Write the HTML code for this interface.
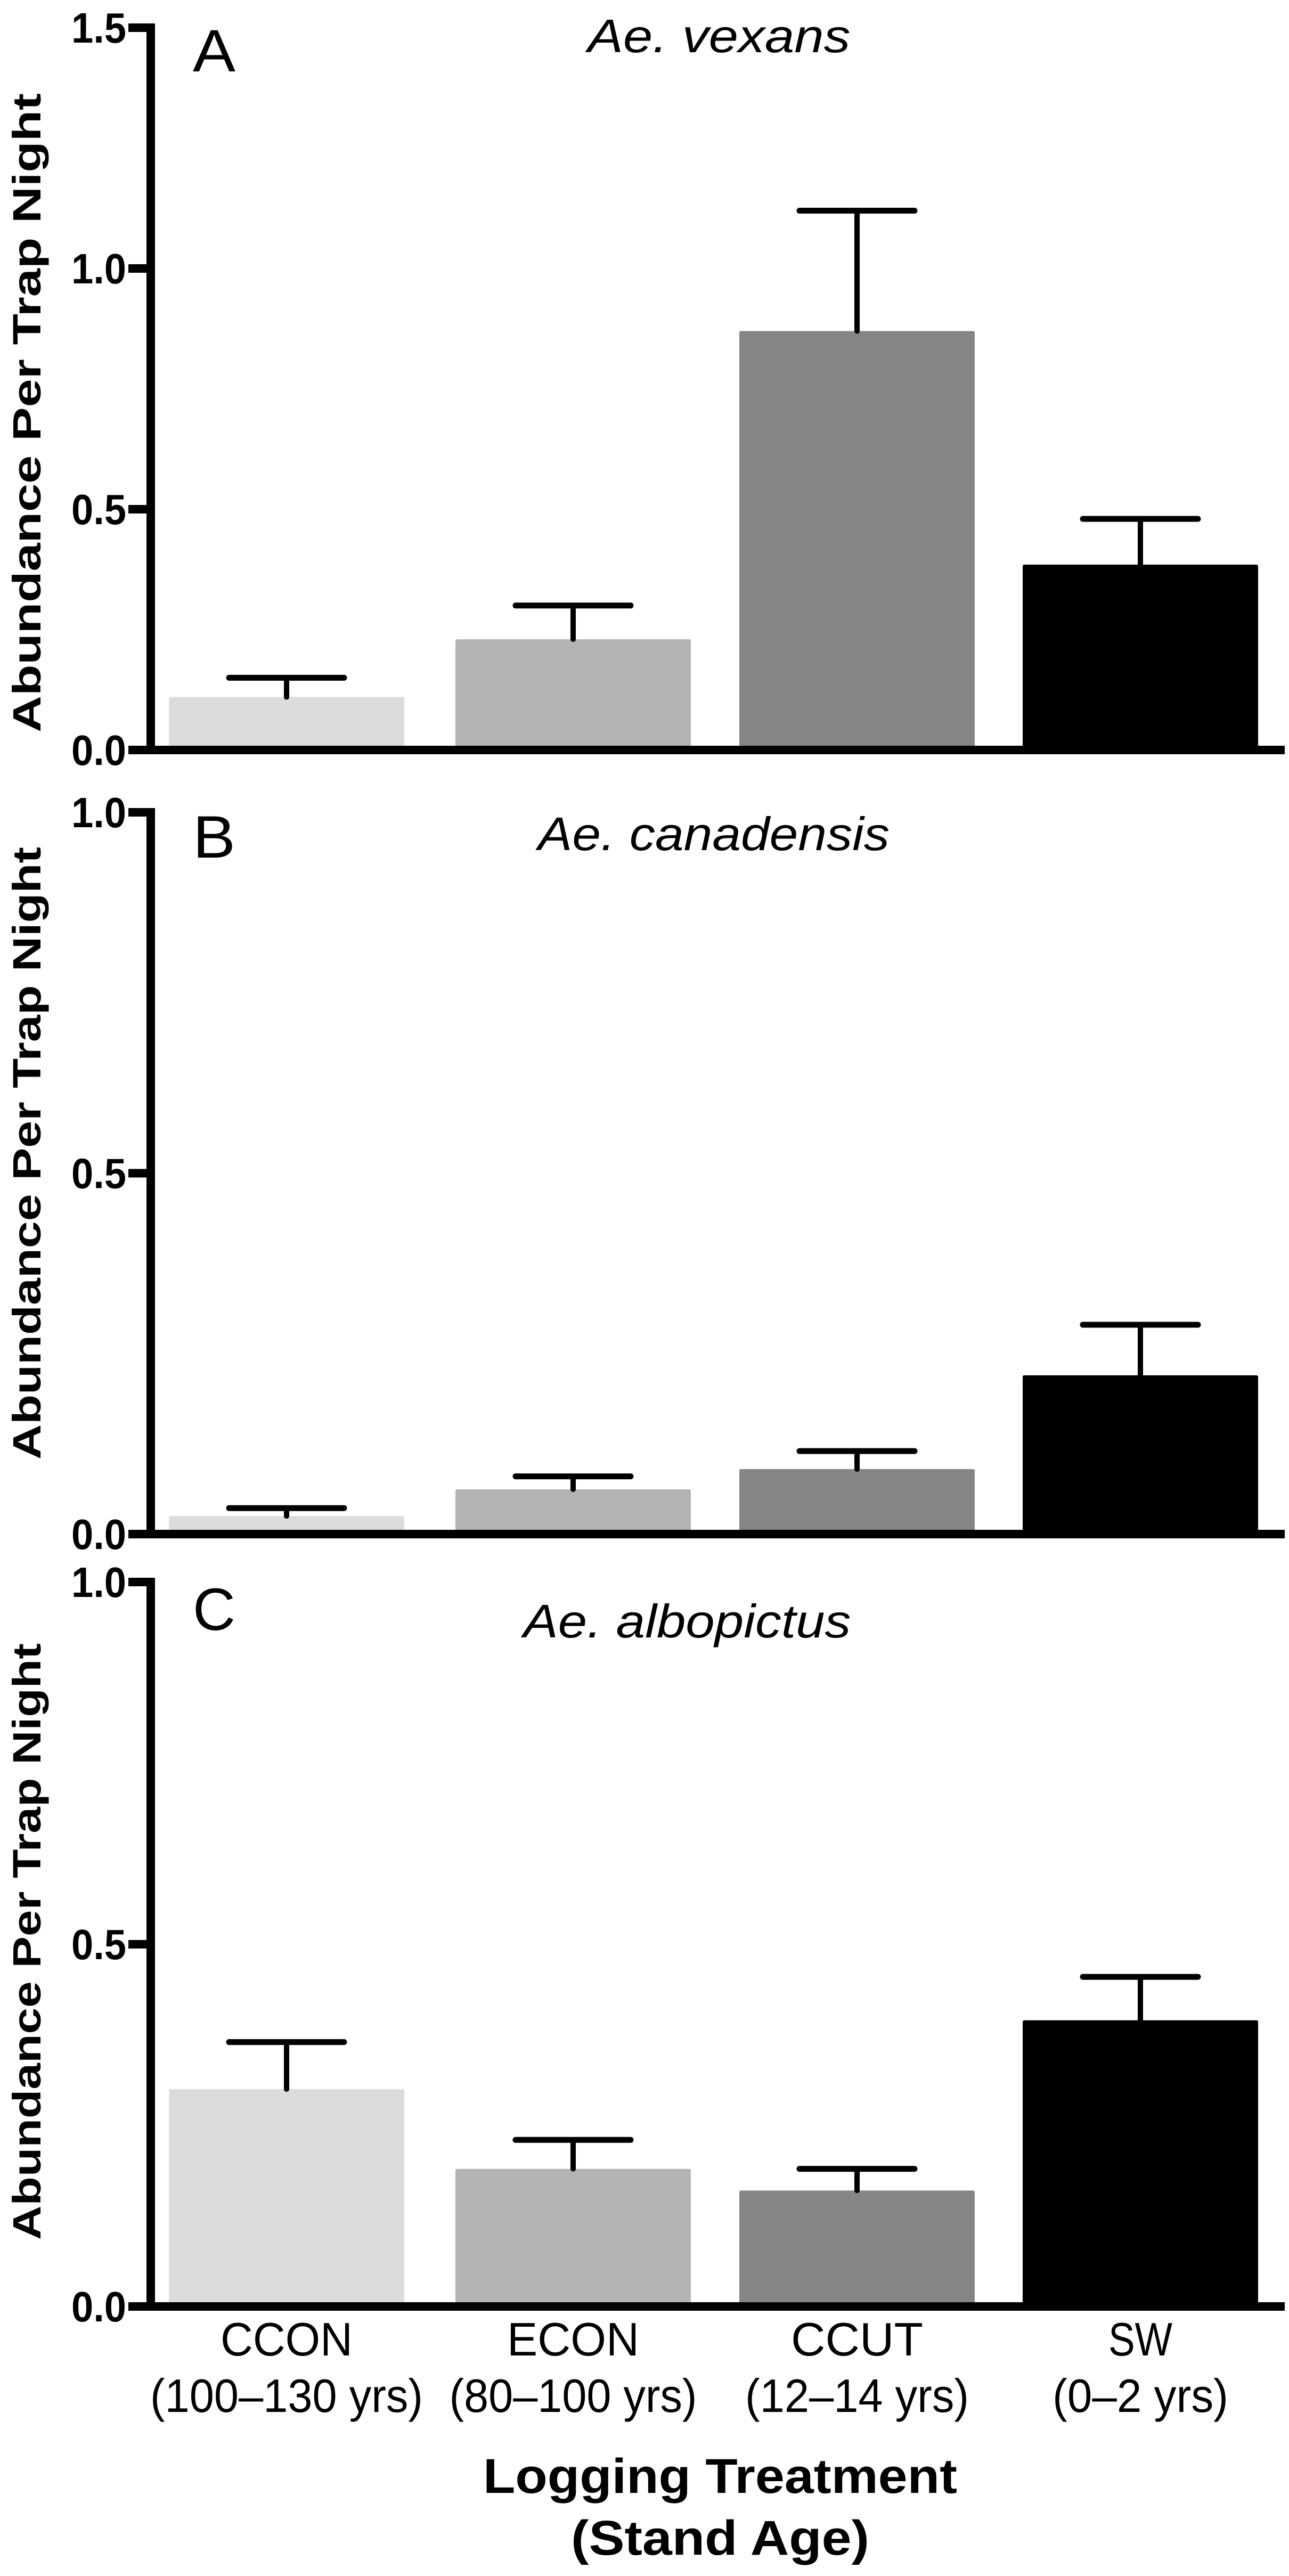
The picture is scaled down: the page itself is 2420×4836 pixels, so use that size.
<!DOCTYPE html>
<html><head><meta charset="utf-8"><style>
html,body{margin:0;padding:0;background:#fff}
svg{display:block}
</style></head><body>
<svg id="chart" width="2420" height="4836" viewBox="0 0 2420 4836" xmlns="http://www.w3.org/2000/svg" font-family="'Liberation Sans Narrow','Liberation Sans',sans-serif"></svg>
<script>
const categories = ["CCON","ECON","CCUT","SW"];
const ageLabels = ["(100\u2013130 yrs)","(80\u2013100 yrs)","(12\u201314 yrs)","(0\u20132 yrs)"];
const colors = ["#dcdcdc","#b4b4b4","#858585","#000000"];
const vexansMeans = [0.11, 0.23, 0.87, 0.385];
const vexansErr = [0.15, 0.30, 1.12, 0.48];
const canadensisMeans = [0.025, 0.062, 0.09, 0.22];
const canadensisErr = [0.036, 0.08, 0.115, 0.29];
const albopictusMeans = [0.30, 0.19, 0.16, 0.395];
const albopictusErr = [0.365, 0.23, 0.19, 0.455];
const ticksA = [0, 0.5, 1.0, 1.5];
const ticksBC = [0, 0.5, 1.0];
const tickLabelsA = ["0.0","0.5","1.0","1.5"];
const tickLabelsBC = ["0.0","0.5","1.0"];

const NS = "http://www.w3.org/2000/svg";
const svg = document.getElementById('chart');
function mk(tag, attrs, parent){
  const e = document.createElementNS(NS, tag);
  for (const k in attrs) e.setAttribute(k, attrs[k]);
  (parent||svg).appendChild(e);
  return e;
}
const axisX = 283, axisRight = 2412;
const barLefts = [317, 855, 1388, 1920];
const barW = 442;

const panels = [
  {id:'a', letter:'A', title:'Ae. vexans', means:vexansMeans, err:vexansErr, ticks:ticksA, tl:tickLabelsA, y0:1408, yTop:52, max:1.5, titleY:98, titleX:1350, titleW:493, letterY:134, ytCenter:775, ytLen:1200},
  {id:'b', letter:'B', title:'Ae. canadensis', means:canadensisMeans, err:canadensisErr, ticks:ticksBC, tl:tickLabelsBC, y0:2880, yTop:1525, max:1.0, titleY:1596, titleX:1340, titleW:660, letterY:1610, ytCenter:2165, ytLen:1150},
  {id:'c', letter:'C', title:'Ae. albopictus', means:albopictusMeans, err:albopictusErr, ticks:ticksBC, tl:tickLabelsBC, y0:4330, yTop:2970, max:1.0, titleY:3074, titleX:1290, titleW:615, letterY:3060, ytCenter:3645, ytLen:1120}
];

panels.forEach(p => {
  const g = mk('g', {});
  
  
  const y = v => p.y0 - (v / p.max) * (p.y0 - p.yTop);
  p.means.forEach((m, i) => {
    const r = mk('rect', {x: barLefts[i], y: y(m), width: barW, height: p.y0 - y(m), fill: colors[i], rx: 3}, g);
    
    
    const cx = barLefts[i] + barW / 2;
    const eb = mk('g', {stroke: '#000', 'stroke-linecap': 'round'}, g);
    
    
    mk('line', {x1: cx, x2: cx, y1: y(m), y2: y(p.err[i]), 'stroke-width': 10}, eb);
    mk('line', {x1: cx - 108, x2: cx + 108, y1: y(p.err[i]), y2: y(p.err[i]), 'stroke-width': 11}, eb);
  });
  const ya = mk('line', {x1: axisX, x2: axisX, y1: p.yTop - 8, y2: p.y0 + 8, stroke: '#000', 'stroke-width': 16}, g);
  
  
  const xa = mk('line', {x1: axisX - 8, x2: axisRight, y1: p.y0, y2: p.y0, stroke: '#000', 'stroke-width': 16}, g);
  
  
  p.ticks.forEach((t, i) => {
    const ty = y(t);
    const tk = mk('line', {x1: 241, x2: axisX, y1: ty, y2: ty, stroke: '#000', 'stroke-width': 16}, g);
    
    
    const lb = mk('text', {x: 237, y: ty + 28, 'text-anchor': 'end', 'font-size': 80, 'font-weight': 'bold', textLength: 103, lengthAdjust: 'spacingAndGlyphs'}, g);
    lb.textContent = p.tl[i];
    
    
  });
  const lt = mk('text', {x: 362, y: p.letterY, 'font-size': 112, textLength: 80, lengthAdjust: 'spacingAndGlyphs'}, g);
  lt.textContent = p.letter;
  
  
  const tt = mk('text', {x: p.titleX, y: p.titleY, 'text-anchor': 'middle', 'font-size': 88, 'font-style': 'italic', textLength: p.titleW, lengthAdjust: 'spacingAndGlyphs'}, g);
  tt.textContent = p.title;
  
  
  const yt = mk('text', {x: 0, y: 0, 'text-anchor': 'middle', 'font-size': 74, 'font-weight': 'bold', 'font-family': "'Liberation Sans',sans-serif", textLength: p.ytLen, lengthAdjust: 'spacingAndGlyphs', transform: 'translate(76,' + p.ytCenter + ') rotate(-90)'}, g);
  yt.textContent = 'Abundance Per Trap Night';
  
  
});

const nameW = [248, 248, 248, 120];
const ageW = [512, 465, 420, 330];
categories.forEach((c, i) => {
  const cx = barLefts[i] + barW / 2;
  const t1 = mk('text', {x: cx, y: 4422, 'text-anchor': 'middle', 'font-size': 88, textLength: nameW[i], lengthAdjust: 'spacingAndGlyphs'});
  t1.textContent = c;
  
  
  const t2 = mk('text', {x: cx, y: 4528, 'text-anchor': 'middle', 'font-size': 88, textLength: ageW[i], lengthAdjust: 'spacingAndGlyphs'});
  t2.textContent = ageLabels[i];
  
  
});
const xt1 = mk('text', {x: 1352, y: 4680, 'text-anchor': 'middle', 'font-size': 92, 'font-weight': 'bold', textLength: 890, lengthAdjust: 'spacingAndGlyphs'});
xt1.textContent = 'Logging Treatment';


const xt2 = mk('text', {x: 1352, y: 4796, 'text-anchor': 'middle', 'font-size': 92, 'font-weight': 'bold', textLength: 560, lengthAdjust: 'spacingAndGlyphs'});
xt2.textContent = '(Stand Age)';


</script>
</body></html>
